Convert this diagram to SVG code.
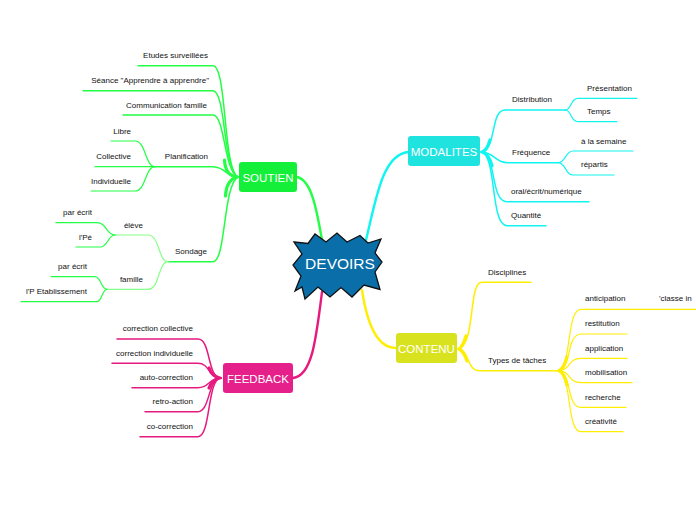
<svg xmlns="http://www.w3.org/2000/svg" width="696" height="520" viewBox="0 0 696 520">
<style>
.t{font-family:"Liberation Sans",Arial,sans-serif;font-size:8px;fill:#111}
.e{text-anchor:end}
.m{font-family:"Liberation Sans",Arial,sans-serif;font-size:11.5px;fill:#fff;text-anchor:middle}
.c{fill:none;stroke-linecap:round;stroke-linejoin:round}
.g{stroke:#22ff44}
.gl{stroke:#88ff88}
.cy{stroke:#11f5f0}
.y{stroke:#ffee00}
.p{stroke:#e6197f}
.w0{stroke-width:3.2}
.w1{stroke-width:2.4}
.w2{stroke-width:1.5}
.w3{stroke-width:1.2}
</style>
<rect width="696" height="520" fill="#fff"/>
<g id="connectors">
<!-- center to main nodes -->
<path class="c g w1" d="M297 177 C312 180 317 212 322 240"/>
<path class="c cy w1" d="M366 240 C376 200 382 155 408 152"/>
<path class="c y w1" d="M362 290 C368 330 380 348 396 348"/>
<path class="c p w1" d="M322 292 C316 340 312 376 293 378"/>
<!-- SOUTIEN -->
<path class="c g w2" d="M138 65.7 H213 C227 66 223 170 238 177"/>
<path class="c g w2" d="M83 90.7 H213 C226 91 223 170 238 177"/>
<path class="c g w2" d="M123 115 H213 C225 115 224 172 238 177"/>
<path class="c g w2" d="M155 166.7 H213 C226 167 226 177 238 177"/>
<path class="c g w2" d="M168 261.7 H213 C226 261.7 223 185 238 177"/>
<path class="c g w0" d="M224.5 160 C225 170 229 176 237 177 C230 179 226 186 225.5 196"/>
<path class="c g w3" d="M111 141 H135 C146 141 145 166.7 155 166.7"/>
<path class="c g w3" d="M95 166.7 H155"/>
<path class="c g w3" d="M91 191 H135 C146 191 145 166.7 155 166.7"/>
<path class="c gl w3" d="M115 235 H148 C160 235 158 261.7 168 261.7"/>
<path class="c gl w3" d="M107 289.3 H148 C160 289.3 158 261.7 168 261.7"/>
<path class="c g w3" d="M56 222.7 H97 C107 222.7 106 235 115 235"/>
<path class="c g w3" d="M76 247 H100 C108 247 108 235 115 235"/>
<path class="c g w3" d="M51 276.7 H95 C101 276.7 101 289.3 107 289.3"/>
<path class="c g w3" d="M21 301.7 H97 C102 301.7 102 289.3 107 289.3"/>
<!-- FEEDBACK -->
<path class="c p w2" d="M117 339 H198 C211 339 207 378 221 378"/>
<path class="c p w2" d="M112 363.3 H198 C210 363.3 208 378 221 378"/>
<path class="c p w2" d="M132 387.7 H198 C210 387.7 208 378 221 378"/>
<path class="c p w2" d="M145 411.7 H198 C210 411.7 208 378 221 378"/>
<path class="c p w2" d="M140 436.7 H198 C211 436.7 207 378 221 378"/>
<path class="c p w0" d="M209 368 C211 374 215 377 220 378 C215 379 211 382 209 388"/>
<!-- MODALITES -->
<path class="c cy w2" d="M481 152 C497 150 490 110 505 110 H565"/>
<path class="c cy w2" d="M481 152 C495 152 494 162.7 508 162.7 H558"/>
<path class="c cy w2" d="M481 152 C497 154 490 201.7 507 201.7 H589"/>
<path class="c cy w2" d="M481 152 C497 154 490 225.7 507 225.7 H546"/>
<path class="c cy w0" d="M490 140 C488 147 486 151 482 152 C487 153 490 158 492 166"/>
<path class="c cy w3" d="M565 110 C572 110 570 98.3 578 98.3 H637"/>
<path class="c cy w3" d="M565 110 C572 110 570 121.7 578 121.7 H617"/>
<path class="c cy w3" d="M558 162.7 C566 162.7 565 151 573 151 H633"/>
<path class="c cy w3" d="M558 162.7 C566 162.7 565 175 573 175 H614"/>
<!-- CONTENU -->
<path class="c y w2" d="M458 349 C476 345 468 282.3 482 282.3 H531"/>
<path class="c y w2" d="M458 349 C470 350 466 370.7 480 370.7 H558"/>
<path class="c y w0" d="M466 336 C464 343 462 347 459 349 C463 351 465 355 467 361"/>
<path class="c y w3" d="M558 370.7 C572 368 566 309.3 581 309.3 H653"/>
<path class="c y w3" d="M653 309.3 H700"/>
<path class="c y w3" d="M558 370.7 C572 370 566 334 581 334 H627"/>
<path class="c y w3" d="M558 370.7 C572 370 567 358.3 581 358.3 H627"/>
<path class="c y w3" d="M558 370.7 C572 371 567 382.7 581 382.7 H632"/>
<path class="c y w3" d="M558 370.7 C572 371 566 407.3 581 407.3 H626"/>
<path class="c y w3" d="M558 370.7 C572 372 566 431.7 581 431.7 H623"/>
<path class="c y w0" d="M567 357 C565 364 563 369 559 370.7 C563 372 565 377 567 385"/>
</g>
<g id="devoirs">
<polygon points="294,242 308,243.5 315,234 326,242 337,233 347,242 360,235.5 368,243 381,239 375,253 382,262 375,272 380,289.5 364,285 352,297 341,287.5 330,297 318,287 305,299 302,287 295,291 301,276 293,265 302,254" fill="#0a6ea8" stroke="#111" stroke-width="1.3" stroke-linejoin="miter"/>
<text x="340" y="269" class="m" style="font-size:15.5px">DEVOIRS</text>
</g>
<g id="soutien"><rect x="239" y="162" width="58" height="30" rx="3" fill="#14f03a"/><text x="268" y="181.5" class="m">SOUTIEN</text></g>
<g id="modalites"><rect x="408" y="136" width="72" height="30" rx="3" fill="#1fe3df"/><text x="444" y="155.5" class="m">MODALITES</text></g>
<g id="contenu"><rect x="396" y="333" width="61" height="30" rx="3" fill="#d9e21e"/><text x="426.5" y="352.5" class="m">CONTENU</text></g>
<g id="feedback"><rect x="223" y="363" width="70" height="30" rx="3" fill="#e6208a"/><text x="258" y="382.5" class="m">FEEDBACK</text></g>
<g id="soutien-children">
<text class="t e" x="208" y="58">Etudes surveillées</text>
<text class="t e" x="209" y="83">Séance "Apprendre à apprendre"</text>
<text class="t e" x="207" y="107.5">Communication famille</text>
<text class="t e" x="208" y="159">Planification</text>
<text class="t e" x="131" y="133.5">Libre</text>
<text class="t e" x="131" y="159">Collective</text>
<text class="t e" x="131" y="183.5">Individuelle</text>
<text class="t e" x="207" y="254">Sondage</text>
<text class="t e" x="143" y="227.5">élève</text>
<text class="t e" x="92" y="215">par écrit</text>
<text class="t e" x="92" y="239.5">l'Pé</text>
<text class="t e" x="143" y="281.5">famille</text>
<text class="t e" x="87" y="269">par écrit</text>
<text class="t e" x="87" y="294">l'P Etablissement</text>
</g>
<g id="feedback-children">
<text class="t e" x="193" y="331">correction collective</text>
<text class="t e" x="193" y="355.5">correction individuelle</text>
<text class="t e" x="193" y="380">auto-correction</text>
<text class="t e" x="193" y="404">retro-action</text>
<text class="t e" x="193" y="429">co-correction</text>
</g>
<g id="modalites-children">
<text class="t" x="512" y="102">Distribution</text>
<text class="t" x="587" y="90.5">Présentation</text>
<text class="t" x="587" y="114">Temps</text>
<text class="t" x="512" y="155">Fréquence</text>
<text class="t" x="581" y="143.5">à la semaine</text>
<text class="t" x="581" y="167">répartis</text>
<text class="t" x="511" y="194">oral/écrit/numérique</text>
<text class="t" x="511" y="218">Quantité</text>
</g>
<g id="contenu-children">
<text class="t" x="488" y="274.5">Disciplines</text>
<text class="t" x="488" y="362.5">Types de tâches</text>
<text class="t" x="585" y="301">anticipation</text>
<text class="t" x="659" y="301">'classe in</text>
<text class="t" x="585" y="326">restitution</text>
<text class="t" x="585" y="350.5">application</text>
<text class="t" x="585" y="375">mobilisation</text>
<text class="t" x="585" y="399.5">recherche</text>
<text class="t" x="585" y="424">créativité</text>
</g>
</svg>
